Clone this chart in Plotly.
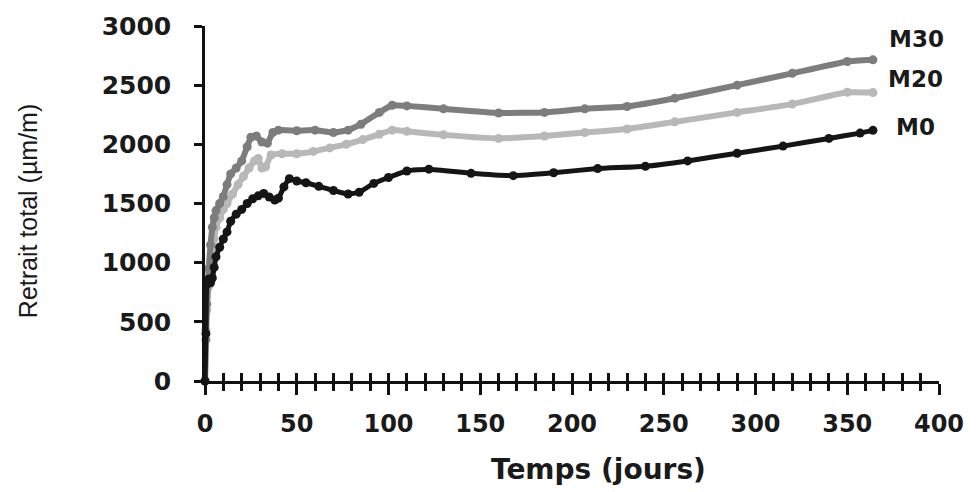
import plotly.graph_objects as go

# ---- data ----
days_m0 = [0, 0.5, 1, 2, 3, 4, 5, 6, 8, 10, 12, 14, 17, 20, 23, 26, 29, 32, 35, 38, 40, 43, 46,
           50, 55, 62, 70, 78, 84, 92, 100, 110, 122, 145, 168, 190, 214, 240, 263, 290, 315,
           340, 357, 364]
m0 = [0, 400, 820, 860, 830, 870, 960, 1050, 1130, 1200, 1260, 1350, 1410, 1450, 1500, 1540,
      1565, 1585, 1555, 1530, 1545, 1640, 1710, 1690, 1675, 1645, 1610, 1580, 1595, 1670, 1720,
      1775, 1790, 1755, 1735, 1760, 1795, 1815, 1860, 1925, 1985, 2050, 2095, 2118]

days_m20 = [0, 0.5, 1, 2, 3, 4, 5, 6, 8, 10, 12, 15, 18, 21, 24, 27, 29, 31, 33, 36, 42, 50,
            59, 68, 77, 86, 95, 102, 110, 130, 160, 185, 207, 230, 256, 290, 320, 350, 364]
m20 = [0, 430, 600, 800, 950, 1100, 1200, 1300, 1380, 1450, 1500, 1580, 1660, 1730, 1800, 1860,
       1880, 1800, 1810, 1910, 1920, 1920, 1940, 1970, 2000, 2040, 2085, 2120, 2110, 2080, 2050,
       2070, 2100, 2130, 2190, 2270, 2340, 2440, 2437]

days_m30 = [0, 0.5, 1, 2, 3, 4, 5, 6, 8, 10, 12, 14, 17, 20, 23, 25, 28, 31, 34, 37, 40, 50,
            60, 70, 78, 85, 95, 102, 110, 130, 160, 185, 207, 230, 256, 290, 320, 350, 364]
m30 = [0, 350, 650, 950, 1150, 1300, 1380, 1440, 1500, 1560, 1660, 1750, 1800, 1860, 1980, 2060,
       2070, 2020, 2010, 2100, 2120, 2115, 2120, 2100, 2120, 2170, 2270, 2330, 2325, 2300, 2265,
       2270, 2300, 2320, 2390, 2500, 2600, 2700, 2714]

series_names = ["M30", "M20", "M0"]
x_ticks = [0, 50, 100, 150, 200, 250, 300, 350, 400]
y_ticks = [0, 500, 1000, 1500, 2000, 2500, 3000]

# ---- styling ----
W, H = 976, 492
L, R, T, B = 205, 34, 23, 111
col_m30, col_m20, col_m0 = "#7d7d7d", "#b8b8b8", "#151515"
tick_font = dict(family="DejaVu Sans", size=24, color="#1a1a1a", weight="bold")

fig = go.Figure()
for name, xs, ys, col, lw, ms in [("M20", days_m20, m20, col_m20, 6, 9),
                                  ("M30", days_m30, m30, col_m30, 6, 9),
                                  ("M0", days_m0, m0, col_m0, 5, 9)]:
    fig.add_trace(go.Scatter(x=xs, y=ys, name=name, mode="lines+markers",
                             line=dict(color=col, width=lw, shape="spline", smoothing=0.4),
                             marker=dict(color=col, size=ms),
                             cliponaxis=False, showlegend=False))

# invisible trace on overlaid axis to draw the inner half of the crossing ticks
fig.add_trace(go.Scatter(x=[0, 400], y=[0, 0], xaxis="x2", mode="markers",
                         marker=dict(opacity=0), showlegend=False, hoverinfo="skip"))

fig.update_layout(
    width=W, height=H,
    margin=dict(l=L, r=R, t=T, b=B),
    paper_bgcolor="white", plot_bgcolor="white",
    xaxis=dict(range=[0, 400], tickvals=x_ticks, showgrid=False, zeroline=False,
               showline=True, linecolor="#111", linewidth=2.5,
               ticks="outside", ticklen=11, tickwidth=2.5, tickcolor="#111",
               minor=dict(dtick=10, ticks="outside", ticklen=7, tickwidth=2.5,
                          tickcolor="#111", showgrid=False),
               tickfont=tick_font, ticklabelstandoff=8),
    xaxis2=dict(range=[0, 400], overlaying="x", anchor="y", side="bottom",
                tickvals=list(range(10, 401, 10)), ticks="inside", ticklen=8,
                tickwidth=2.5, tickcolor="#111", showticklabels=False,
                showgrid=False, zeroline=False, showline=False),
    yaxis=dict(range=[0, 3000], tickvals=y_ticks, showgrid=False, zeroline=False,
               showline=True, linecolor="#111", linewidth=2.5,
               ticks="outside", ticklen=8, tickwidth=2.5, tickcolor="#111",
               tickfont=dict(family="DejaVu Sans", size=25, color="#1a1a1a", weight="bold"),
               ticklabelstandoff=18),
)

# axis titles
fig.add_annotation(text="Temps (jours)", xref="paper", yref="paper",
                   x=(600 - L) / (W - L - R), y=-(470 - (H - B)) / (H - T - B),
                   xanchor="center", yanchor="middle", showarrow=False,
                   font=dict(family="DejaVu Sans", size=28, color="#1a1a1a", weight="bold"))
fig.add_annotation(text="Retrait total (µm/m)", xref="paper", yref="paper",
                   x=-(L - 28) / (W - L - R), y=((H - B) - 210) / (H - T - B),
                   xanchor="center", yanchor="middle", textangle=-90, showarrow=False,
                   font=dict(family="Liberation Sans", size=25, color="#1a1a1a"))

# series labels (offsets in pixels from each series' last point)
for name, xs, ys, dx, dy in [("M30", days_m30, m30, 14, 21),
                             ("M20", days_m20, m20, 13, 14),
                             ("M0", days_m0, m0, 21, 3)]:
    fig.add_annotation(text=name, x=xs[-1], y=ys[-1], xref="x", yref="y",
                       xanchor="left", yanchor="middle", xshift=dx, yshift=dy,
                       showarrow=False,
                       font=dict(family="DejaVu Sans", size=23, color="#1a1a1a", weight="bold"))

fig.write_html("out.html")
